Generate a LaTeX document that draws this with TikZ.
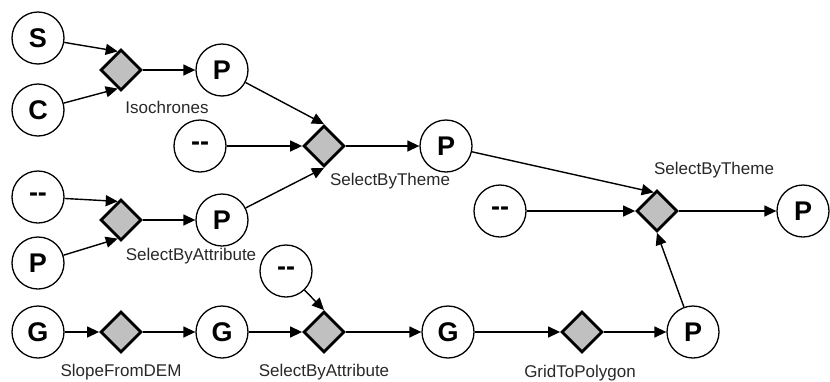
\documentclass[tikz,border=0pt]{standalone}
\usepackage{fontspec}
\setmainfont{Liberation Sans}
\usepackage{tikz}
\usetikzlibrary{positioning,shapes.geometric,arrows.meta}

\begin{document}
\begin{tikzpicture}[
    data/.style={circle, draw, line width=1.3pt, minimum size=52pt, inner sep=0pt,
      font=\fontsize{27}{30}\selectfont\bfseries},
    proc/.style={diamond, draw, line width=2.8pt, fill={rgb,255:red,192;green,192;blue,192},
      minimum size=41pt, inner sep=0pt},
    lbl/.style={font=\fontsize{17}{20}\selectfont, inner sep=0pt, text={rgb,255:red,40;green,40;blue,40}},
    flow/.style={line width=1.4pt, -{Triangle[length=12pt,width=11pt]}}]
      \useasboundingbox (-38pt,38pt) rectangle (792pt,-343pt);
      \node[data] (S) {S};
      \node[data, on grid, below=72pt of S] (C) {C};
      \node[proc, on grid, below right=32pt and 83pt of S] (Iso) {};
      \node[data, on grid, right=101pt of Iso] (P1) {P};
      \node[data, on grid, below left=76pt and 22pt of P1] (D1) {{-}{-}};
      \node[proc, on grid, right=124pt of D1] (Theme1) {};
      \node[data, on grid, right=122pt of Theme1] (P2) {P};

      \node[data, on grid, below=159pt of S] (D2) {{-}{-}};
      \node[data, on grid, below=66pt of D2] (P0) {P};
      \node[proc, on grid, below right=23pt and 83pt of D2] (Attr1) {};
      \node[data, on grid, right=101pt of Attr1] (P3) {P};
      \node[data, on grid, below right=51pt and 64pt of P3] (D3) {{-}{-}};

      \node[data, on grid, below=69pt of P0] (G1) {G};
      \node[proc, on grid, right=83pt of G1] (Slope) {};
      \node[data, on grid, right=101pt of Slope] (G2) {G};
      \node[proc, on grid, right=102pt of G2] (Attr2) {};
      \node[data, on grid, right=124pt of Attr2] (G3) {G};
      \node[proc, on grid, right=134pt of G3] (Grid) {};
      \node[data, on grid, right=111pt of Grid] (P4) {P};
      \node[proc, on grid, above left=121pt and 36pt of P4] (Theme2) {};
      \node[data, on grid, left=157pt of Theme2] (D4) {{-}{-}};
      \node[data, on grid, right=146pt of Theme2] (P5) {P};

      % operation names
      \node[lbl, on grid, below right=37pt and 46pt of Iso] (IsoL) {Isochrones};
      \node[lbl, on grid, below right=35pt and 66pt of Theme1] (Theme1L) {SelectByTheme};
      \node[lbl, on grid, below right=36pt and 70pt of Attr1] (Attr1L) {SelectByAttribute};
      \node[lbl, on grid, above right=41pt and 57pt of Theme2] (Theme2L) {SelectByTheme};
      \node[lbl, on grid, below=40pt of Slope] (SlopeL) {SlopeFromDEM};
      \node[lbl, on grid, below=40pt of Attr2] (Attr2L) {SelectByAttribute};
      \node[lbl, on grid, below left=41pt and 2pt of Grid] (GridL) {GridToPolygon};

      \draw[flow] (S) to (Iso.100);
      \draw[flow] (C) to (Iso.260);
      \draw[flow] (Iso) to (P1);
      \draw[flow] (P1) to (Theme1.north);
      \draw[flow] (D1) to (Theme1);
      \draw[flow] (P3) to (Theme1.south);
      \draw[flow] (Theme1) to (P2);
      \draw[flow] (P2) to (Theme2.100);
      \draw[flow] (D4) to (Theme2);
      \draw[flow] (P4) to (Theme2.south);
      \draw[flow] (Theme2) to (P5);

      \draw[flow] (D2) to (Attr1.100);
      \draw[flow] (P0) to (Attr1.260);
      \draw[flow] (Attr1) to (P3);

      \draw[flow] (G1) to (Slope);
      \draw[flow] (Slope) to (G2);
      \draw[flow] (G2) to (Attr2);
      \draw[flow] (D3) to (Attr2.north);
      \draw[flow] (Attr2) to (G3);
      \draw[flow] (G3) to (Grid);
      \draw[flow] (Grid) to (P4);
    \end{tikzpicture}
\end{document}
